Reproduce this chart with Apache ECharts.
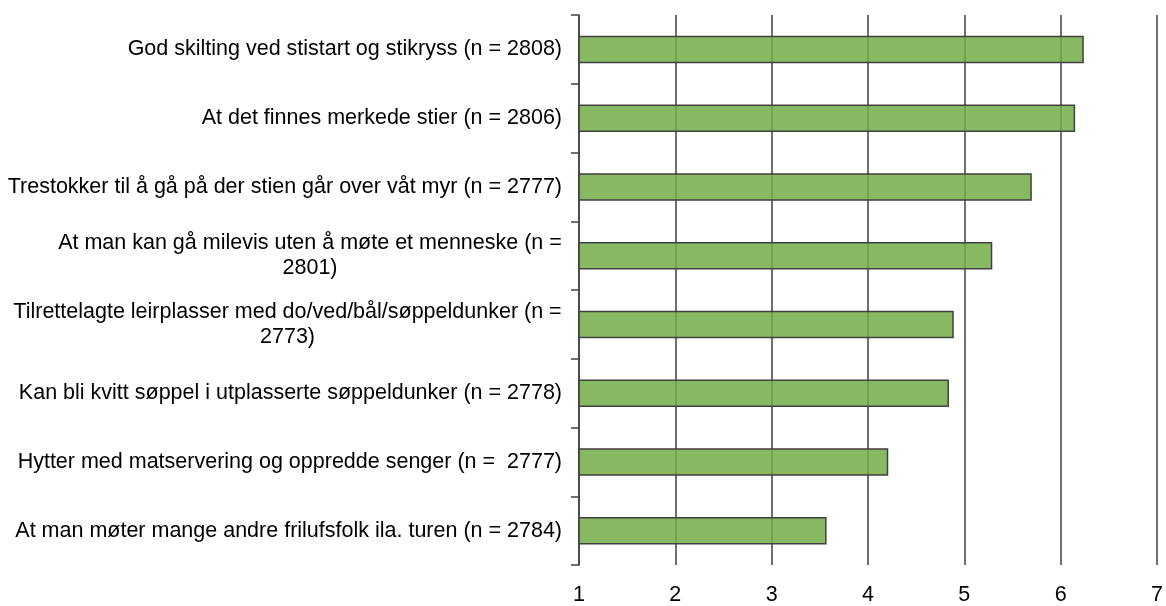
<!DOCTYPE html>
<html>
<head>
<meta charset="utf-8">
<script src="https://cdn.jsdelivr.net/npm/echarts@6/dist/echarts.min.js"></script>
<style>
  html, body { margin: 0; padding: 0; background: #fff; }
  #chart { width: 1166px; height: 606px; }
</style>
</head>
<body>
<div id="chart"></div>
<script>
// categories top to bottom, wrapped like the original labels
var categories = [
    'God skilting ved stistart og stikryss (n = 2808)',
    'At det finnes merkede stier (n = 2806)',
    'Trestokker til å gå på der stien går over våt myr (n = 2777)',
    'At man kan gå milevis uten å møte et menneske (n =\n2801)',
    'Tilrettelagte leirplasser med do/ved/bål/søppeldunker (n =\n2773)',
    'Kan bli kvitt søppel i utplasserte søppeldunker (n = 2778)',
    'Hytter med matservering og oppredde senger (n =  2777)',
    'At man møter mange andre frilufsfolk ila. turen (n = 2784)'
];
var means = [6.24, 6.15, 5.70, 5.29, 4.89, 4.84, 4.21, 3.57];
var xTicks = [1, 2, 3, 4, 5, 6, 7];

var FS = 21.5;
var FAMILY = '"Liberation Sans", Arial, sans-serif';
var measureCtx = document.createElement('canvas').getContext('2d');
measureCtx.font = FS + 'px ' + FAMILY;

// wrapped labels: centre the lines on each other, block stays right aligned
var labelRich = {};
var labelText = {};
categories.forEach(function (c, i) {
    var lines = c.split('\n');
    if (lines.length < 2) return;
    var w = Math.ceil(Math.max.apply(null, lines.map(function (l) {
        return measureCtx.measureText(l).width;
    })));
    labelRich['l' + i] = { width: w, align: 'center', fontSize: FS, lineHeight: 25, color: '#000' };
    labelText[c] = lines.map(function (l) { return '{l' + i + '|' + l + '}'; }).join('\n');
});

var chart = echarts.init(document.getElementById('chart'));
chart.setOption({
    animation: false,
    textStyle: { fontFamily: FAMILY },
    grid: { left: 579, right: 5, top: 15, bottom: 34, containLabel: false },
    xAxis: {
        type: 'value',
        min: xTicks[0],
        max: xTicks[xTicks.length - 1],
        interval: 1,
        axisLine: { show: false },
        axisTick: { show: false },
        axisLabel: { fontSize: FS, color: '#000', margin: 19 },
        splitLine: { show: true, lineStyle: { color: '#404040', width: 1.5 } }
    },
    yAxis: {
        type: 'category',
        inverse: true,
        data: categories,
        axisLine: { show: true, lineStyle: { color: '#404040', width: 1.5 } },
        axisTick: { show: true, length: 8, lineStyle: { color: '#404040', width: 1.5 } },
        axisLabel: {
            fontSize: FS,
            color: '#000',
            margin: 17,
            lineHeight: 25,
            rich: labelRich,
            formatter: function (v) { return labelText[v] || v; }
        }
    },
    series: [{
        type: 'bar',
        data: means,
        barCategoryGap: '60%',
        z: 1,
        itemStyle: {
            color: 'rgba(113,173,71,0.85)',
            borderColor: '#404040',
            borderWidth: 1.5
        }
    }]
});
</script>
</body>
</html>
